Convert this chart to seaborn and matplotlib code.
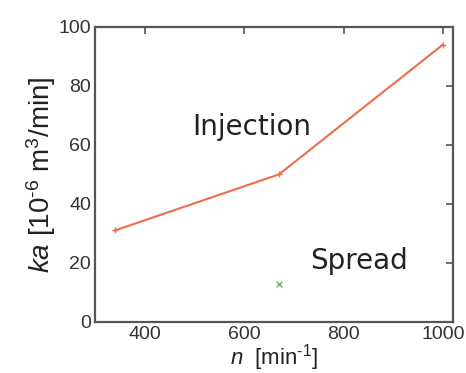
import matplotlib
matplotlib.use("Agg")
import matplotlib.pyplot as plt
import seaborn as sns
import pandas as pd

sns.set_theme(style="white")
plt.rcParams['font.family'] = ['Liberation Sans', 'DejaVu Sans']
plt.rcParams['mathtext.fontset'] = 'custom'
plt.rcParams['mathtext.rm'] = 'Liberation Sans'
plt.rcParams['mathtext.it'] = 'Liberation Sans:italic'

# data
injection_n = [340, 670, 1000]
injection_ka = [31, 50, 94]
spread_n = [670]
spread_ka = [13]

x_ticks = [400, 600, 800, 1000]
y_ticks = [0, 20, 40, 60, 80, 100]

inj = pd.DataFrame({"n": injection_n, "ka": injection_ka})
spr = pd.DataFrame({"n": spread_n, "ka": spread_ka})

fig = plt.figure(figsize=(4.66, 3.73), dpi=100)
ax = fig.add_axes([0.204, 0.137, 0.768, 0.791])

sns.lineplot(data=inj, x="n", y="ka", ax=ax, color="#f26b4c", lw=1.5,
             marker="+", markersize=4, markeredgewidth=1, markeredgecolor="#f26b4c")
sns.scatterplot(data=spr, x="n", y="ka", ax=ax, color="#7aab6a", marker="x",
                s=18, linewidth=1)

ax.set_xlim(300, 1020)
ax.set_ylim(0, 100)
ax.set_xticks(x_ticks)
ax.set_yticks(y_ticks)

spine_c = "#5a5550"
for s in ax.spines.values():
    s.set_color(spine_c)
    s.set_linewidth(1.6)
ax.tick_params(direction="in", length=5, width=1.2, color=spine_c,
               top=True, right=True, labelsize=14, labelcolor="#333333", pad=3)

ax.set_xlabel(r"$n$  [min$^{\text{-1}}$]", fontsize=16, color="#222222", labelpad=-1)
ax.set_ylabel(r"$ka$ [10$^{\text{-6}}$ m$^{3}$/min]", fontsize=20, color="#222222", labelpad=0)

ax.text(616, 66, "Injection", fontsize=20, family="DejaVu Sans", color="#222222",
        ha="center", va="center")
ax.text(830, 20.5, "Spread", fontsize=20, family="DejaVu Sans", color="#222222",
        ha="center", va="center")

fig.savefig("out.png", dpi=100)
